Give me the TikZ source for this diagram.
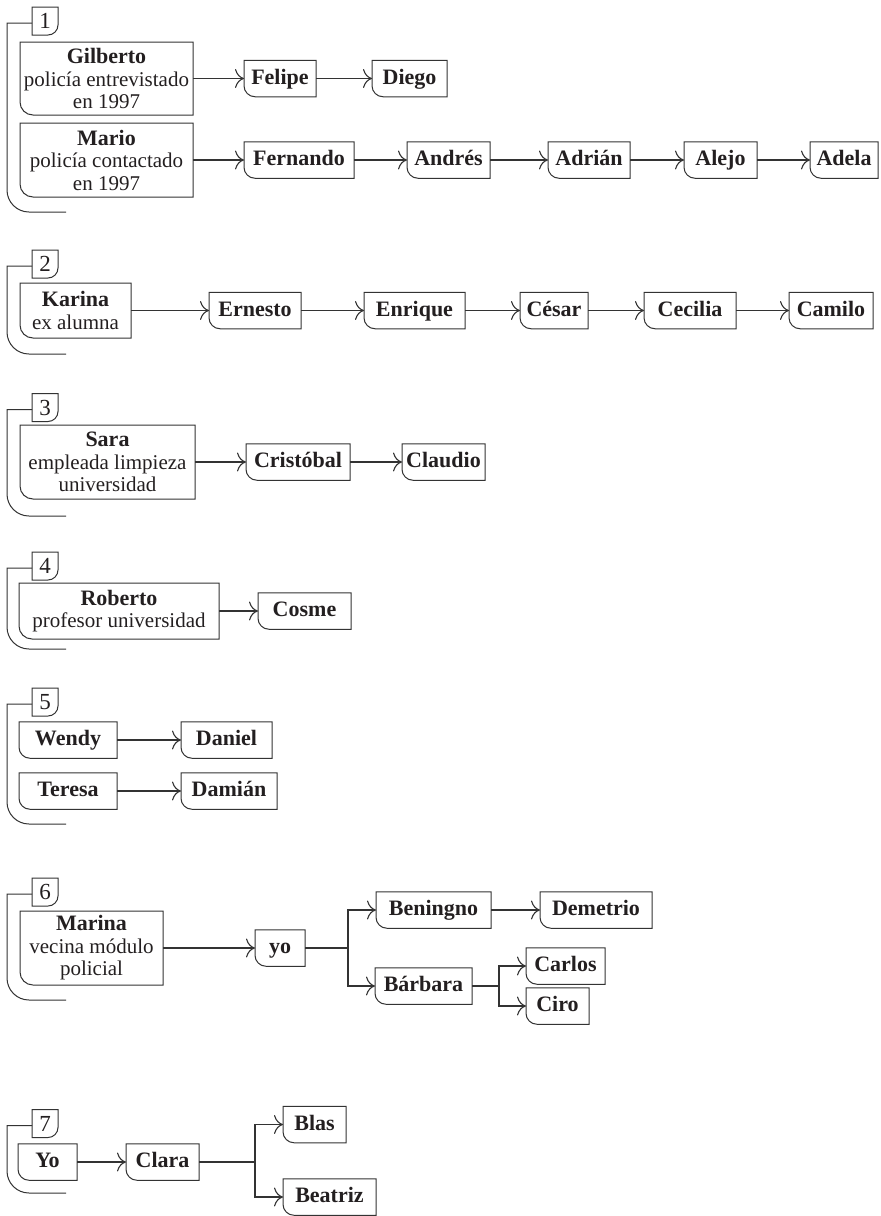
\documentclass[tikz,border=0pt]{standalone}
\usepackage{fontspec}
\setmainfont{Liberation Serif}
\usetikzlibrary{arrows.meta}
\definecolor{txt}{HTML}{231F20}
\definecolor{lc}{HTML}{333333}
\newcommand\grp[2]{\draw[brk] ([yshift=-2pt]#1.west) -| (7,{-#2+22}) arc[start angle=180,end angle=270,radius=22pt] -- (66,-#2);}
\newcommand\nmf{\fontsize{22}{22.5}\selectfont\bfseries}
\begin{document}
\begin{tikzpicture}[x=1pt,y=1pt,
  every node/.style={inner sep=0pt, outer sep=0pt, text=txt},
  nm/.style={anchor=west, minimum height=36.5pt, text height=15pt, text depth=4pt, font=\nmf},
  big/.style={anchor=west, align=center, font=\fontsize{21}{22.5}\selectfont},
  lab/.style={anchor=west, minimum width=26pt, minimum height=28pt, text height=15pt, text depth=0pt, font=\fontsize{23}{23}\selectfont},
  boxl/.style={draw=lc, line width=1pt},
  conn/.style={draw=lc, line width=1.1pt, -{Computer Modern Rightarrow[length=9pt,width=19pt]}},
  plainl/.style={draw=lc, line width=1.1pt},
  brk/.style={draw=lc, line width=1pt},
]
\useasboundingbox (0,0) rectangle (881,-1216);

% group 1
\node[lab] (l1) at (32,-21) {1};
\node[big, minimum width=173pt, minimum height=73pt] (gilberto) at (20,-78.5) {{\nmf Gilberto}\\policía entrevistado\\en 1997};
\node[big, minimum width=173pt, minimum height=74pt] (mario) at (20,-160) {{\nmf Mario}\\policía contactado\\en 1997};
\node[nm, minimum width=72pt] (felipe) at (244,-78.5) {Felipe};
\node[nm, minimum width=75pt] (diego) at (372,-78.5) {Diego};
\node[nm, minimum width=110pt] (fernando) at (244,-160) {Fernando};
\node[nm, minimum width=83pt] (andres) at (407,-160) {Andrés};
\node[nm, minimum width=82pt] (adrian) at (548,-160) {Adrián};
\node[nm, minimum width=73pt] (alejo) at (684,-160) {Alejo};
\node[nm, minimum width=68pt] (adela) at (810,-160) {Adela};
\grp{l1}{212}
\draw[conn] (gilberto) -- (felipe);
\draw[conn] (felipe) -- (diego);
\draw[conn] (mario) -- (fernando);
\draw[conn] (fernando) -- (andres);
\draw[conn] (andres) -- (adrian);
\draw[conn] (adrian) -- (alejo);
\draw[conn] (alejo) -- (adela);

% group 2
\node[lab] (l2) at (32,-264) {2};
\node[big, minimum width=111pt, minimum height=55pt] (karina) at (20,-310.5) {{\nmf Karina}\\ex alumna};
\node[nm, minimum width=92pt] (ernesto) at (209,-310.5) {Ernesto};
\node[nm, minimum width=101pt] (enrique) at (364,-310.5) {Enrique};
\node[nm, minimum width=68pt] (cesar) at (520,-310.5) {César};
\node[nm, minimum width=92pt] (cecilia) at (644,-310.5) {Cecilia};
\node[nm, minimum width=84pt] (camilo) at (789,-310.5) {Camilo};
\grp{l2}{354}
\draw[conn] (karina) -- (ernesto);
\draw[conn] (ernesto) -- (enrique);
\draw[conn] (enrique) -- (cesar);
\draw[conn] (cesar) -- (cecilia);
\draw[conn] (cecilia) -- (camilo);

% group 3
\node[lab] (l3) at (32,-407.5) {3};
\node[big, minimum width=175pt, minimum height=74pt] (sara) at (20,-462) {{\nmf Sara}\\empleada limpieza\\universidad};
\node[nm, minimum width=104pt] (cristobal) at (246,-462) {Cristóbal};
\node[nm, minimum width=83pt] (claudio) at (402,-462) {Claudio};
\grp{l3}{516}
\draw[conn] (sara) -- (cristobal);
\draw[conn] (cristobal) -- (claudio);

% group 4
\node[lab] (l4) at (32,-566) {4};
\node[big, minimum width=200pt, minimum height=56pt] (roberto) at (19,-611) {{\nmf Roberto}\\profesor universidad};
\node[nm, minimum width=93pt] (cosme) at (258,-611) {Cosme};
\grp{l4}{649}
\draw[conn] (roberto) -- (cosme);

% group 5
\node[lab] (l5) at (32,-702) {5};
\node[nm, minimum width=98pt] (wendy) at (19,-740) {Wendy};
\node[nm, minimum width=91pt] (daniel) at (181,-740) {Daniel};
\node[nm, minimum width=98pt] (teresa) at (19,-791) {Teresa};
\node[nm, minimum width=96pt] (damian) at (181,-791) {Damián};
\grp{l5}{824}
\draw[conn] (wendy) -- (daniel);
\draw[conn] (teresa) -- (damian);

% group 6
\node[lab] (l6) at (32,-892) {6};
\node[big, minimum width=143pt, minimum height=74pt] (marina) at (20,-948) {{\nmf Marina}\\vecina módulo\\policial};
\node[nm, minimum width=50pt] (yo) at (255,-948) {yo};
\node[nm, minimum width=115pt] (beningno) at (376,-910) {Beningno};
\node[nm, minimum width=112pt] (demetrio) at (540,-910) {Demetrio};
\node[nm, minimum width=97pt] (barbara) at (375,-986) {Bárbara};
\node[nm, minimum width=79pt] (carlos) at (526,-966) {Carlos};
\node[nm, minimum width=63pt] (ciro) at (526,-1006) {Ciro};
\coordinate (br6) at (348,-948);
\coordinate (br6b) at (499,-986);
\grp{l6}{1000}
\draw[conn] (marina) -- (yo);
\draw[plainl] (yo.east) -- (br6);
\draw[conn] (br6) |- (beningno.west);
\draw[conn] (br6) |- (barbara.west);
\draw[conn] (beningno) -- (demetrio);
\draw[plainl] (barbara.east) -- (br6b);
\draw[conn] (br6b) |- (carlos.west);
\draw[conn] (br6b) |- (ciro.west);

% group 7
\node[lab] (l7) at (32,-1123.5) {7};
\node[nm, minimum width=59pt] (yo2) at (18,-1162) {Yo};
\node[nm, minimum width=73pt] (clara) at (126,-1162) {Clara};
\node[nm, minimum width=63pt] (blas) at (283,-1124.5) {Blas};
\node[nm, minimum width=93pt] (beatriz) at (283,-1197) {Beatriz};
\coordinate (br7) at (255,-1162);
\grp{l7}{1193}
\draw[conn] (yo2) -- (clara);
\draw[plainl] (clara.east) -- (br7);
\draw[conn] (br7) |- (blas.west);
\draw[conn] (br7) |- (beatriz.west);

% box outlines (rounded lower-left corner)
\foreach \n in {felipe,diego,fernando,andres,adrian,alejo,adela,ernesto,enrique,cesar,cecilia,camilo,cristobal,claudio,cosme,wendy,daniel,teresa,damian,yo,beningno,demetrio,barbara,carlos,ciro,yo2,clara,blas,beatriz}
  \draw[boxl] (\n.north west) -- (\n.north east) -- (\n.south east) -- ([xshift=11pt]\n.south west) arc[start angle=270,end angle=180,radius=11pt] -- cycle;
\foreach \n in {gilberto,mario,karina,sara,roberto,marina}
  \draw[boxl] (\n.north west) -- (\n.north east) -- (\n.south east) -- ([xshift=13pt]\n.south west) arc[start angle=270,end angle=180,radius=13pt] -- cycle;
% label boxes (rounded lower-right corner)
\foreach \n in {l1,l2,l3,l4,l5,l6,l7}
  \draw[boxl] (\n.south west) -- (\n.north west) -- (\n.north east) -- ([yshift=10pt]\n.south east) arc[start angle=0,end angle=-90,radius=10pt] -- cycle;
\end{tikzpicture}
\end{document}
